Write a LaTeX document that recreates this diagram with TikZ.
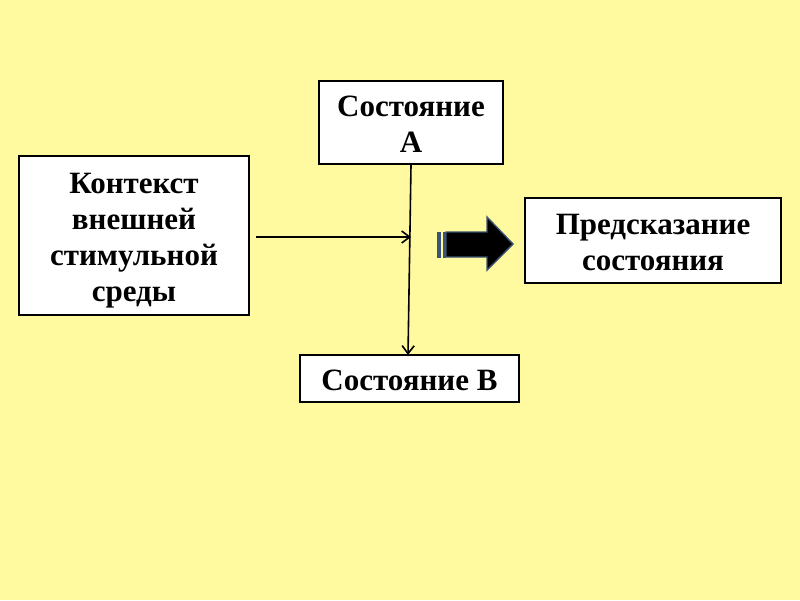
\documentclass[tikz,border=0pt]{standalone}
\usepackage{fontspec}
\setmainfont{Liberation Serif}
\usetikzlibrary{arrows.meta}
\definecolor{bg}{RGB}{255,250,160}
\definecolor{arrowedge}{RGB}{60,85,115}
\newcommand{\boxtext}[1]{\raisebox{-5pt}[\height][\depth]{\begin{tabular}{@{}c@{}}#1\end{tabular}}}
\begin{document}
\begin{tikzpicture}[x=1pt,y=-1pt,
  box/.style={draw=black,line width=2.2pt,fill=white,inner sep=0pt,align=center,font=\bfseries\fontsize{31}{36}\selectfont},
  conn/.style={line width=1.6pt,-{Straight Barb[length=8pt,width=12pt]}}]
\fill[bg] (0,0) rectangle (800,600);
\useasboundingbox (0,0) rectangle (800,600);
\node[box,minimum width=230,minimum height=159] (ctx) at (134,235.5) {\boxtext{Контекст\\внешней\\стимульной\\среды}};
\node[box,minimum width=184,minimum height=83] (sa) at (411,122.5) {\boxtext{Состояние\\А}};
\node[box,minimum width=256,minimum height=85] (pred) at (653,240.5) {\boxtext{Предсказание\\состояния}};
\node[box,minimum width=219,minimum height=47] (sb) at (409.5,378.5) {\boxtext{Состояние В}};
\coordinate (hs) at (256,237);
\coordinate (he) at (411,237);
\coordinate (vs) at (411,165);
\coordinate (ve) at (408,355);
\draw[conn] (hs) -- (he);
\draw[conn] (vs) -- (ve);
% block arrow
\fill[arrowedge] (437,232) rectangle (441,258);
\fill[arrowedge] (443,232) rectangle (446,258);
\draw[draw=arrowedge,fill=black,line width=1.4pt] (446,232) -- (487,232) -- (487,217) -- (513,244) -- (487,270) -- (487,257) -- (446,257) -- cycle;
\end{tikzpicture}
\end{document}
